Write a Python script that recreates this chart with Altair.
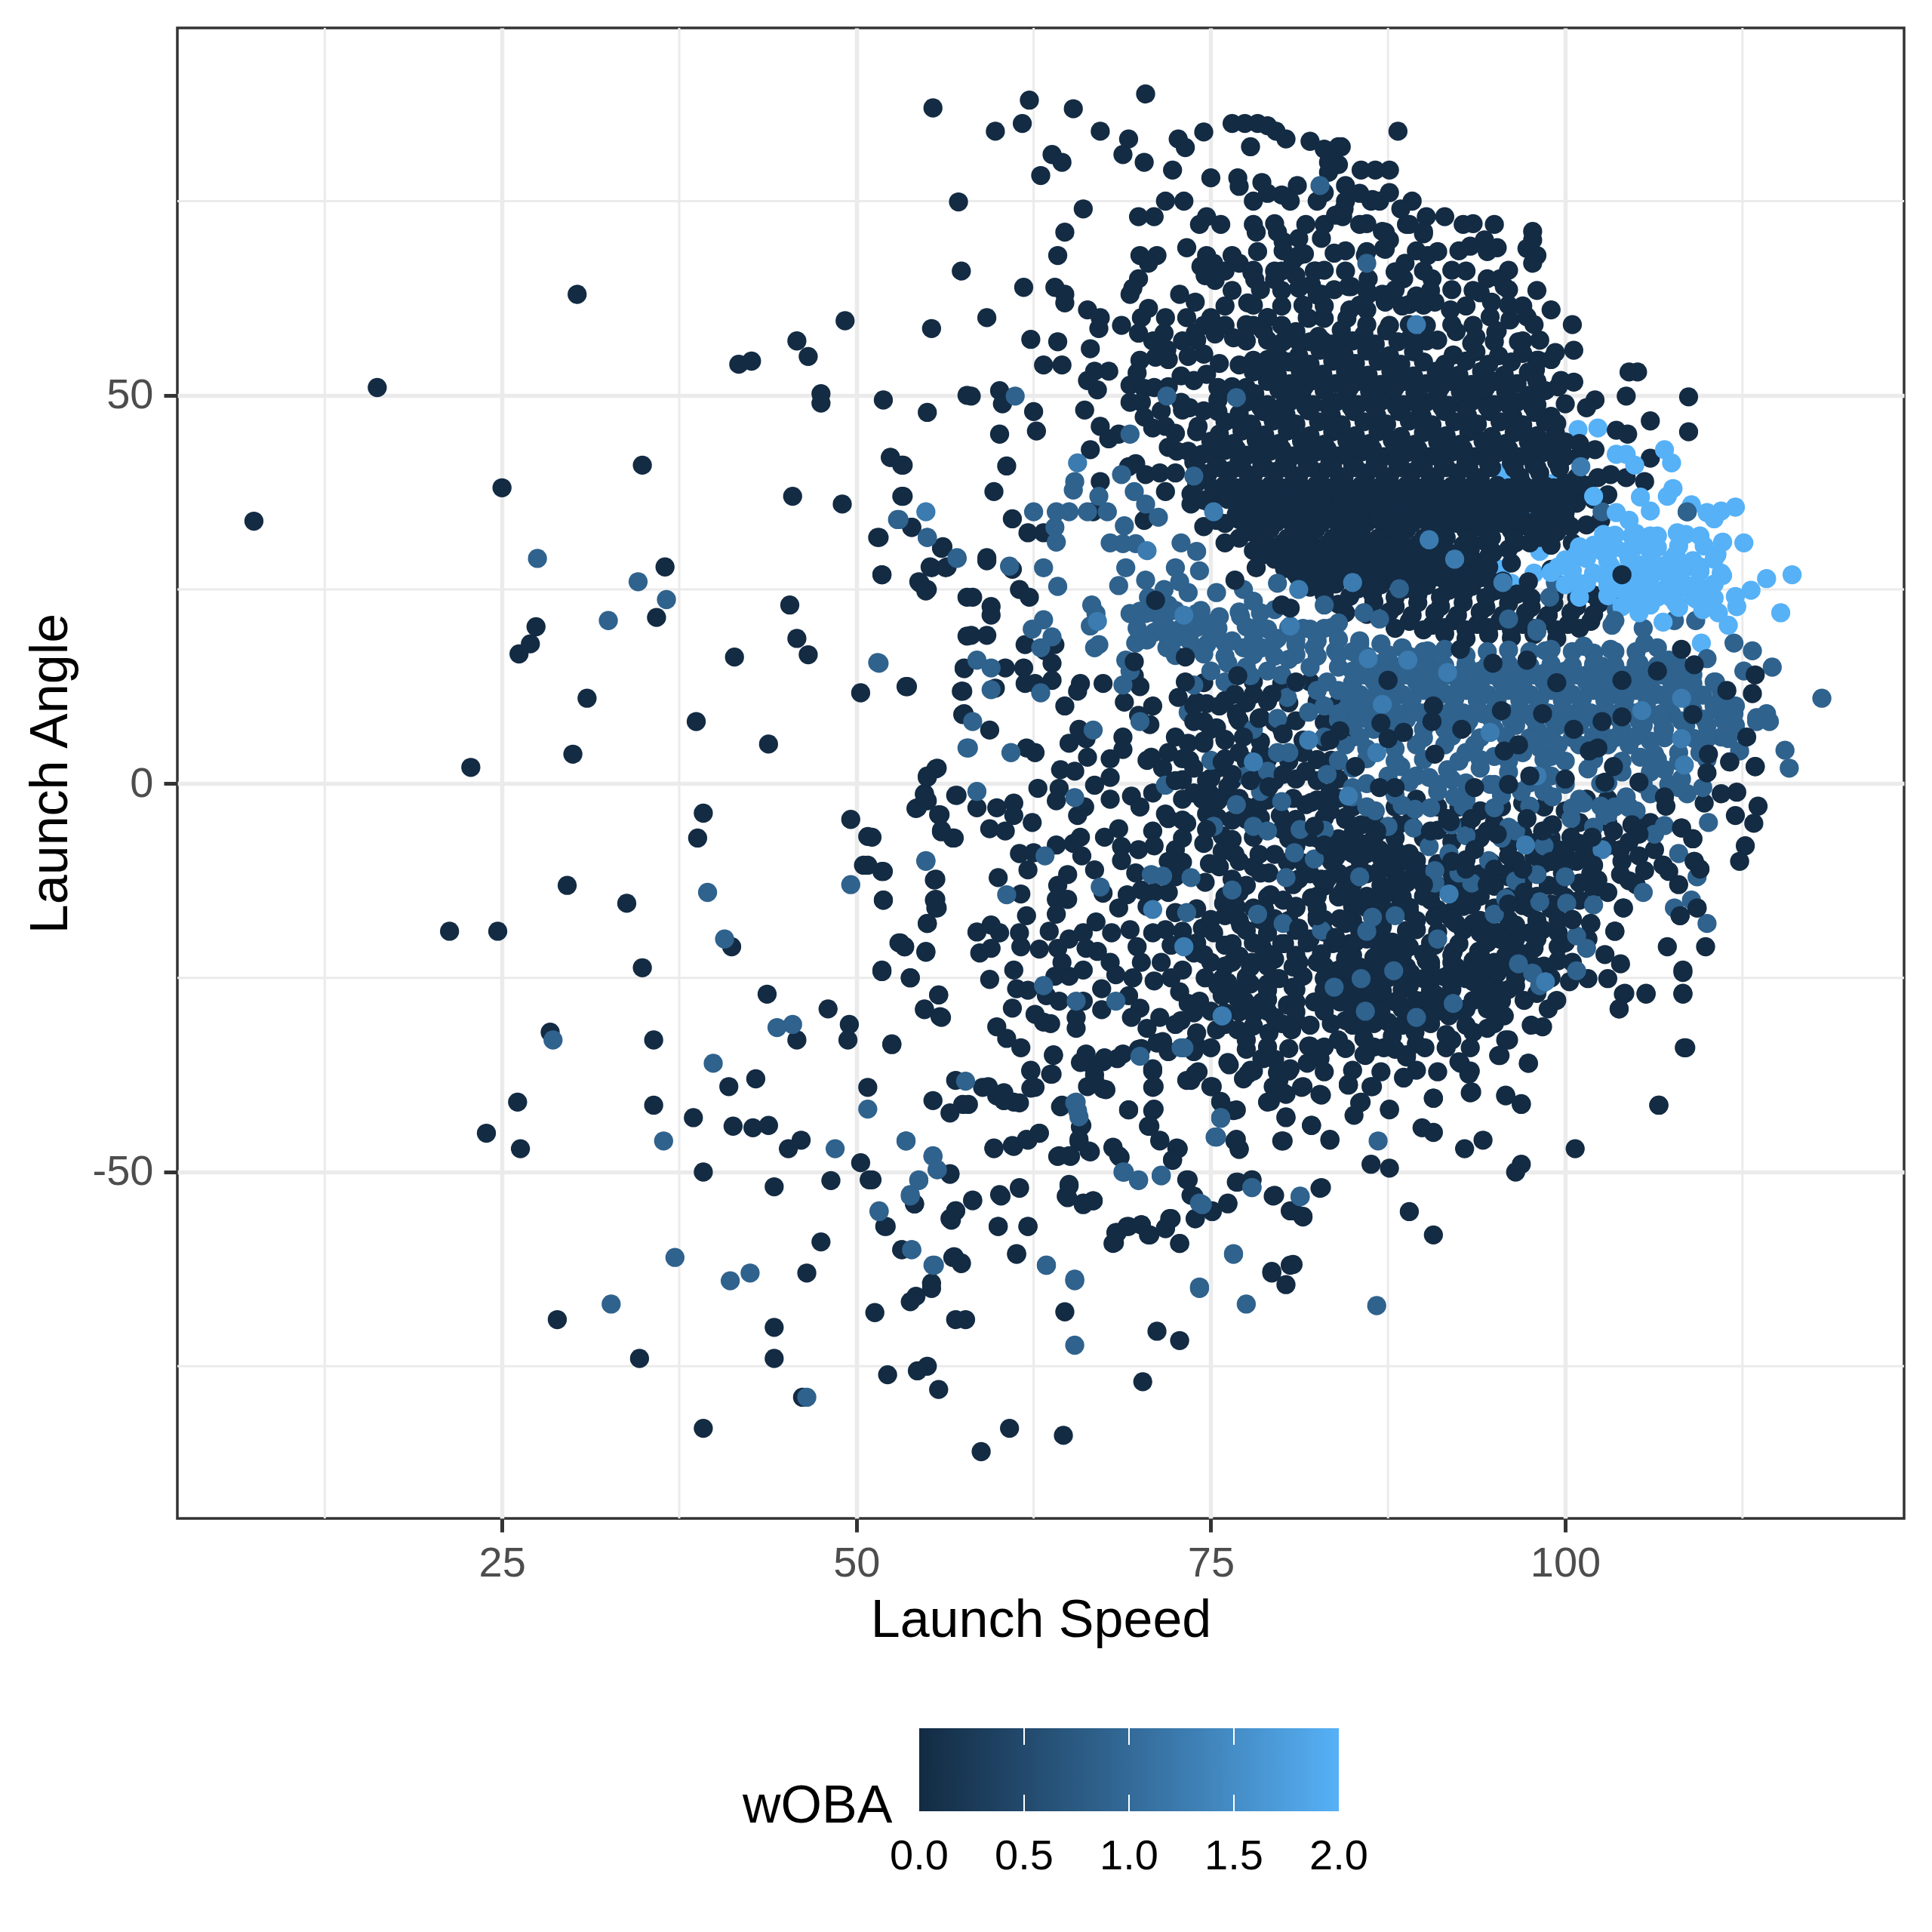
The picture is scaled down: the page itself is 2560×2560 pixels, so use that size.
import altair as alt
import pandas as pd

# Values: (launch speed, launch angle)
minor_x = [12.5, 37.5, 62.5, 87.5, 112.5]
minor_y = [-75, -25, 25, 75]
major_x = [25, 50, 75, 100]
major_y = [-50, 0, 50]
legend_ticks = [0.5, 1.0, 1.5]
legend_values = [0.0, 0.5, 1.0, 1.5, 2.0]
legend_text = ["0.0", "0.5", "1.0", "1.5", "2.0"]
low_colour, high_colour = "#132B43", "#56B1F7"

light_under = [(95.6,40),(99.3,38.8),(97.1,35.3),(96.3,35.1),(98,35.1),(100.4,36.3),(100.9,45.6),(102.3,45.8),
(103.6,42.4),(104.3,42.4),(98.2,29.9),(97.8,27.1),(94.8,29.5),(95.5,27.6),(96.2,25.8),(103.9,14.1),(109.6,18.1)]

dark_sparse = [(7.5,33.8),(16.2,51),(30.3,63),(25,38.1),(34.9,41),(36.5,27.9),(35.9,21.4),(27.4,20.2),(27,18),(26.2,16.7),
(31,11),(30,3.8),(22.8,2.1),(38.7,8),(43.8,5.1),(41.4,16.3),(41.7,54),(42.6,54.4),(45.8,57),(46.6,55),(47.5,50.2),(47.5,49),
(49.2,59.6),(51.9,49.4),(55,47.8),(55.3,58.6),(55.4,87),(57.2,74.9),(57.4,66),(57.8,50),(52.4,42),(53.2,41),(45.5,37),(49,36),
(53.2,37),(53.9,33),(51.5,31.7),(51.8,26.9),(56,30.3),(55.2,27.9),(56.4,27.9),(54.4,26),(55,25),(45.3,23),(45.8,18.7),(46.6,16.6),
(53.5,12.5),(50.3,11.7),(57.8,24),(57.8,19),(57.6,14.8),(57.4,11.9),(57.5,8.9),(55.6,1.9),(55,0.8),(54.8,-1.3),(55,-2.2),(54.2,-3.2),
(55.8,-4),(56,-6.2),(56.8,-7),(57,-1.5),(39.2,-3.8),(38.8,-7),(49.6,-4.6),(50.8,-6.8),(50.5,-10.5),(51.8,-11.3),(55.5,-12.4),(51.9,-15),
(55.5,-15),(55.6,-16),(55,-18),(29.6,-13.1),(33.8,-15.4),(21.3,-19),(24.7,-19),(41.2,-21),(53,-20.5),(53.4,-21),(54.9,-21.7),(34.9,-23.7),
(51.8,-24),(53.8,-25),(55.8,-27.2),(43.7,-27.1),(54.8,-29),(55.9,-30),(48,-29),(49.5,-31),(49.4,-33),(52.5,-33.6),(28.4,-32),(35.7,-33),
(45.8,-33),(41,-39),(42.9,-38),(50.8,-39.1),(26.1,-41),(35.7,-41.4),(38.5,-43),(41.3,-44.1),(42.7,-44.3),(43.8,-44),(23.9,-45),(26.3,-47),
(46.1,-45.9),(45.2,-47),(39.2,-50),(50.3,-48.8),(50.9,-51),(48.2,-51.1),(44.2,-51.9),(56.6,-50.3),(54.1,-54.1),(52,-57),(57,-55),(56.6,-56),
(47.5,-59),(53.2,-60),(56.8,-61),(57.4,-61.8),(46.5,-63),(55.3,-65),(54.2,-66),(53.8,-66.7),(51.3,-68.1),(28.9,-69),(57,-69),(44.2,-70),
(34.7,-74),(44.2,-74),(55,-75),(54.3,-75.6),(52.2,-76.1),(55.8,-78),(46.2,-79),(39.2,-83),(108.4,-34),(106.6,-41.4),(100.7,-47),(96.9,-49),
(96.5,-50),(94.2,-45.9),(92.9,-47),(90.7,-44.9),(89.9,-44.3),(90.7,-40.5),(87.6,-42),(86.3,-49),(87.6,-49.5),(89,-55.1),(90.7,-58.1),
(82.7,-52.1),(80.6,-55),(81.5,-55.8),(79.4,-53.1),(77.9,-51),(76.8,-51.3),(76.2,-54),(75.1,-55.1),(73.9,-56),(73.6,-53),(73.3,-51),
(80.6,-62),(79.3,-63),(80.3,-64.5),(72.8,-59.2),(72.1,-56),(71.8,-57.2),(70.7,-58.1),(70.1,-56.8),(69.1,-57),(68.4,-57.8),(68.1,-59.2),
(68.1,-46.9),(68.6,-48.1),(72.8,-71.7),(71.2,-70.5),(70.2,-77),(64.7,-68),(61.3,-60.6),(60,-57),(62.1,-57),(60.2,-53.1),(61.5,-52.1),
(58.2,-53.7),(65,-51.8),(64.8,-53.1),(66,-54),(66.7,-53.7),(60.8,-83),(58.8,-86),(64.6,-83.9),(57.7,-69),(59.7,-47),(61.1,-46.7),(62.1,-45.9),
(62.9,-45),(64.2,-48),(65.1,-48),(65.7,-46.1),(66.4,-47.3),(65.9,-44),(64.4,-41.6),(61.1,-41),(60.4,-40.8),(59.9,-40.2),(58.9,-39.1),(57.5,-41.3),
(62.6,-39.1),(63.8,-37.4),(62.3,-37),(63.9,-35),(69.2,-42),(70.9,-42.1),(70.6,-44.1),(71.4,-45.9),(72.7,-47),(72.3,-48.5),(76.7,-46),(77,-47),
(76.6,-42.1),(75.7,-41),(75.1,-39),(73.9,-37.4),(73.3,-38.2),(70.9,-39.1),(70.9,-37),(67.6,-39.4),(66.8,-38.2),(66.6,-36.2),(65.9,-35.8),
(67.4,-35.8),(68.4,-35.4),(69.9,-34.2),(71.2,-33.4),(73.9,-33.4),(80,-46),(82.1,-44),(83.4,-45.9),(80.3,-42.9),(79,-41),(80.1,-39.8),(79.8,-38.2),
(80.5,-37),(78.7,-35.4),(77.6,-37.4),(76.3,-36.2),(81.4,-39.1),(82.7,-40),(84.7,-38.7),(86.3,-39),(85.1,-42.7),(85.5,-41.1),(88.6,-37.9),(85.9,-35),
(82.7,-35.4),(81.9,-33.8),(93.3,-39.8),(95.8,-40.2),(96.9,-41.3),(93.2,-37.4),(92.5,-35.8),(95.3,-35),(97.4,-36),(95.8,-33),(88.8,-35.2),(88,-34.2),
(103.8,-29),(105.7,-27.1),(104.1,-27.1),(108.3,-24.3),(108.3,-27.1)]

dark_top_zone = [(62.2,88),(65.3,86.9),(70.4,88.8),(61.7,85),(59.8,84),(67.2,84),(69.2,83),(68.8,81),(70.3,80),(72.7,83),(73.2,81.9),(74.5,83.9),
(72.3,79),(63.8,81),(64.5,80),(63,78.3),(76.5,85),(77.4,85),(78.3,85),(79,84.7),(79.6,84),(80.3,83),(77.8,82),(82,82.7),(83,81.7),(84.2,82),(84,79.7),
(83.3,78.7),(75,78),(76.9,78),(77,76.9),(78.6,77.4),(81.1,77),(80,75.8),(80.6,75),(78,75),(82.5,75),(84.5,77),(84.5,75),(66,74),(71.8,75),(73.1,75),
(71,73),(69.9,73),(74.7,73),(74.2,72),(75.7,72),(78.2,71),(79.7,71),(81.7,72),(83,72),(84.3,73),(64.7,71),(80.1,69.8),(81.2,70.2),(82.8,70.2),(73.3,69),
(64.2,68),(70,68),(71.2,68),(70.6,67),(74.7,68),(76.5,68),(77,67),(74.3,66.6),(75.2,67),(74.6,65.4),(75.3,64.8),(69.9,65),(69.5,63.8),(69.3,63),(77.9,65.8),
(79.5,64.9),(78.1,64.9),(80.8,67.4),(80.1,68.6),(81.6,68.2),(83.7,68.3),(82.4,66),(81,65.4),(81.2,63.8),(82.8,63),(82.1,64.2),(84.7,64),(61.8,63.9),(64,63.9),
(64.7,63),(64.7,61.9),(66.3,61),(67.2,60),(67.1,58.6),(68.7,59),(70.6,61.2),(72.8,63),(73.9,62),(77.6,61.9),(79,60),(78,59),(78.7,58.3),(81.9,59.9),(83,59.9),
(84.6,59.9),(70.1,60),(71.8,60),(69.9,58),(71.7,58),(70.9,57),(71.9,55.9),(71.1,54.9),(73.3,60),(75,60),(73.9,58),(75.3,57.9),(76.6,57.4),(74.5,59),(59.2,60),
(62.3,57.2),(64.2,56.9),(66.5,56),(63.2,53.9),(64.5,53.9),(67.8,53.1),(66.8,53.1),(73.4,55),(74.5,55.3),(75.6,54.1),(77,53.9),(80.1,56.9),(81.2,56.9),(82.9,57),
(84.1,57),(79.9,54.7),(79,52.9),(72.9,52.5),(74.7,52.7),(73.8,51.9),(66.3,51.9),(67,50.7),(69.8,52.9),(69.3,51.3),(70.3,50.9),(58.1,49.9),(60.1,50.6),(60.3,48.9),
(62.5,47.9),(62.7,45.4),(60.1,45),(66.1,48.1),(67.2,46),(67.8,44.4),(69.3,49.1),(70.1,49.1),(70.3,47.2),(72.9,49.1),(73.5,48.4),(75.5,49.4),(77.5,50.3),(78.9,48.1),
(70.9,45.8),(71.8,46),(74.1,46),(76.8,46.8),(77.9,46),(66.5,43),(52.4,42),(53.3,41),(60.6,40.9),(53.3,37),(59.7,37.6),(67.2,38.9),(72,43.3),(73.4,42.8),(69.2,40.8),
(69.7,41.2),(70.4,39.8),(71.4,40),(71.8,37.6),(73.6,36),(70.3,33.9),(61,34.1),(66.7,35),(53.9,33),(51.6,31.7),(56.1,30.5),(62.1,32.3),(63.2,32.3),(59.2,29.1),
(85.6,79),(86.6,79),(87.6,79),(87.6,76.1),(86.3,75),(86.9,75),(89.2,75),(88.4,74),(90.2,73),(91.5,73),(88.8,72),(90,71.1),(92.8,72),(87.1,71.1),(87.6,70),(87.2,68.9),
(94.3,70),(93.3,69.2),(95.2,69),(97.7,71.1),(97.7,70),(97.3,68.9),(98,68),(97.7,67),(85.9,68),(90.3,68),(88.7,67),(88,65.9),(90,66),(90.6,65),(86.1,65),(84.8,64),(88.6,65),
(94.5,65),(95.4,65),(95.7,64),(94,63.2),(94.8,62),(87.1,63),(86.1,63),(87.6,63),(86,61),(84.8,61),(87.3,62),(89.5,62.8),(90.8,62),(91.9,61),(89,61.7),(99,61),(94.7,60.1),
(96.1,59.7),(97.3,60.1),(97.8,59.1),(100.5,59.1),(95.1,58.1),(96.7,56.9),(100.6,55.8),(99.3,55.5),(98.1,54.5),(99.7,51.9),(100.6,51.7),(97.9,53.3),(104.5,53),(105.1,53),
(104.3,49.9),(108.7,49.8),(100,48.9),(102.1,49.4),(101.5,48.4),(106,46.7),(108.7,45.3),(103.6,45.5),(104.4,45),(99.4,46.4),(101,43.8),(102.1,43),(106,41.9),(105.6,38.9),
(103.2,39.8),(104.3,39.4),(102.3,39.4),(88.2,84),(84,82),(83.3,80),(84.4,74),(83.8,73.2),(86.4,75.2),(87.3,71),(87.3,68.8),(90,70.8),(82.3,66),(82.5,62.9),(81.2,68),(80,66),
(84.9,64),(82.9,60),(81.8,60),(79,60)]

dark_core = [(81,58.2),(82.6,57.6),(84.2,58.4),(85.8,57.8),(87.4,58.3),(89.1,57.5),(92.3,58.2),(93.7,57.5),(95.2,58.3),
(79.6,55.5),(81.2,55.1),(82.7,55.8),(84.4,55.2),(86,55.7),(87.6,55.1),(89.3,55.6),(92.1,55.2),(93.7,55.6),(95.3,55.1),(97,55.4),
(78,53),(79.7,52.6),(81.3,53.2),(82.9,52.7),(84.5,53.1),(86.1,52.6),(87.7,53.1),(89.3,52.5),(90.9,53.1),(92.5,52.6),(94.1,53.1),(95.7,52.6),(97.4,53),
(76.6,50.5),(78.1,50.2),(79.8,50.7),(81.4,50.1),(83,50.6),(84.6,50),(86.2,50.5),(87.8,49.9),(89.4,50.4),(91,49.9),(92.6,50.5),(94.2,50),(95.8,50.5),(97.4,50),(98.6,50.6),
(75.5,47.9),(77,47.6),(78.7,47.9),(80.3,47.5),(81.9,48),(83.5,47.4),(85.1,47.9),(86.7,47.4),(88.3,47.9),(89.9,47.3),(91.5,47.9),(93.1,47.4),(94.7,47.9),(96.3,47.3),(97.9,47.8),(99,47.3),
(74,45.3),(75.6,45),(77.2,45.4),(78.8,44.9),(80.4,45.4),(82,44.8),(83.6,45.3),(85.2,44.8),(86.8,45.3),(88.4,44.7),(90,45.2),(91.6,44.8),(93.2,45.3),(94.8,44.7),(96.4,45.2),(98,44.8),(99.3,45.2),
(72.6,42.8),(74.4,42.4),(76,42.9),(77.6,42.3),(79.2,42.8),(80.8,42.2),(82.4,42.7),(84,42.2),(85.6,42.7),(87.2,42.1),(88.8,42.6),(90.4,42.1),(92,42.7),(93.6,42.1),(95.2,42.6),(96.8,42.1),(98.4,42.6),(100,42.1),(101.1,42.5),
(72.5,40),(74.8,39.9),(76.4,40.3),(78,39.7),(79.6,40.2),(81.2,39.6),(82.8,40.1),(84.4,39.5),(86,40),(87.6,39.5),(89.2,40.1),(90.8,39.5),(92.4,40),(94,39.4),(96.8,39.5),(98.2,40),(100.8,39.4),
(73.6,37.3),(75.9,37.6),(77.2,37.2),(78.8,37.7),(80.4,37.1),(82,37.6),(83.6,37),(85.2,37.5),(86.8,36.9),(88.4,37.4),(90,36.9),(91.6,37.5),(93.2,36.9),(94.8,37.4),(96.4,36.8),(98,37.3),(99.6,36.8),(101.2,37.4),(103,37.2),
(76.8,34.7),(78.4,35),(80,34.5),(81.6,35),(83.2,34.4),(84.8,34.9),(86.4,34.4),(88,34.9),(89.6,34.3),(91.2,34.8),(92.8,34.3),(94.4,34.8),(96,33.9),(97.6,33.6),(99.2,34.3),(101.5,33.3),(102.5,33.9),
(74.5,33.1),(77.5,32.4),(79.2,32.8),(80.8,32.2),(82.4,32.7),(84,32.1),(85.6,32.6),(87.2,32.1),(88.8,32.7),(91.5,32.1),(93,32.6),(94.6,32.1),(96.2,32.6),(97.8,31.9),(99.4,32.4),
(76,31),(78,30),(79.7,30.4),(81.3,29.9),(82.9,30.4),(84.5,29.8),(86.1,30.3),(87.7,29.8),(89.3,30.3),(90.9,30),(93.3,30.1),(94.9,29.7),(96.5,31),
(80.2,27.7),(81.8,28.2),(83.4,27.6),(85,28.1),(86.6,27.5),(88.2,28),(89.8,27.5),(91.4,27.9),(93,27.4),(94.6,27.9),(96.2,28.4),(99,27.6),(100.4,28.4),
(82,25.3),(83.8,25.7),(85.4,25.1),(87,25.6),(88.6,25),(90.2,25.5),(91.8,24.9),(93.4,25.4),(95,24.8),(96.6,24.4),(97.4,26),
(84,23.1),(86.5,23.4),(88,22.8),(89.6,23.3),(91.2,22.8),(92.8,23.3),(94.4,22.7),(96,23.2),(97.6,22.7),(99.2,23.2),(100.8,22.8),(102.4,23.2),(103.4,23.7),
(89,20.9),(90.6,20.4),(92.2,21),(93.8,20.5),(95.4,21),(97,20.5),(98.6,21),(100.2,20.5),(101.8,20.9),(91.5,19.3),(93,18.7),(94.6,19.2),(96.2,18.8),(97.8,19.2),(99.4,18.7)]

dark_core_fill = [(82,56.9),(83.5,56.6),(85,57),(86.6,56.6),(88.2,56.9),(93.4,56.7),(95,56.9),
(80.5,54.3),(82,54),(83.6,54.4),(85.2,54.1),(86.8,54.4),(88.4,54),(90,54.3),(91.5,54),(93,54.4),(94.6,54),(96.2,54.3),
(79,51.8),(80.6,51.5),(82.2,51.9),(83.8,51.5),(85.4,51.8),(87,51.4),(88.6,51.8),(90.2,51.5),(91.8,51.8),(93.4,51.4),(95,51.8),(96.6,51.5),(98,51.8),
(77.5,49.1),(79,48.8),(80.6,49.2),(82.2,48.8),(83.8,49.1),(85.4,48.8),(87,49.2),(88.6,48.8),(90.2,49.1),(91.8,48.7),(93.4,49.2),(95,48.8),(96.6,49.1),(98,48.8),
(76,46.6),(77.8,46.3),(79.4,46.7),(81,46.3),(82.6,46.6),(84.2,46.2),(85.8,46.6),(87.4,46.3),(89,46.7),(90.6,46.2),(92.2,46.6),(93.8,46.3),(95.4,46.6),(97,46.2),(98.6,46.6),
(75,44.1),(76.6,43.8),(78.2,44.2),(79.8,43.8),(81.4,44.1),(83,43.7),(84.6,44.1),(86.2,43.8),(87.8,44.2),(89.4,43.7),(91,44),(92.6,43.7),(94.2,44.1),(95.8,43.8),(97.4,44),(99,43.7),(100,44),
(73.8,41.4),(75.4,41.1),(77,41.5),(78.6,41.1),(80.2,41.4),(81.8,41),(83.4,41.4),(85,41.1),(86.6,41.5),(88.2,41),(89.8,41.3),(91.4,41),(93,41.4),(94.6,41.1),(96.2,41.3),(97.8,41),(99.4,41.4),
(74,38.7),(76,38.5),(77.6,38.8),(79.2,38.4),(80.8,38.7),(82.4,38.4),(84,38.8),(85.6,38.4),(87.2,38.7),(88.8,38.4),(90.4,38.7),(92,38.3),(93.6,38.7),(95.2,38.4),(97,38.6),(98.6,38.3),(100,38.7),(101.5,38.4),
(75,36),(77,35.8),(78.6,36.2),(80.2,35.8),(81.8,36.1),(83.4,35.7),(85,36.1),(86.6,35.8),(88.2,36.2),(89.8,35.7),(91.4,36),(93,35.7),(94.6,36.1),(96.2,35.8),(97.8,36),(99.4,35.7),(100.8,36.1),
(76,33.5),(78,33.3),(79.6,33.6),(81.2,33.2),(82.8,33.5),(84.4,33.2),(86,33.6),(87.6,33.2),(89.2,33.5),(90.8,33.2),(92.4,33.5),(94,33.1),(95.6,33.5),(97.2,33.2),(98.8,33.4),(100.4,33.1),
(78.4,31.1),(80,30.9),(81.6,31.2),(83.2,30.8),(84.8,31.1),(86.4,30.8),(88,31.2),(89.6,30.8),(91.2,31.1),(92.8,30.7),(94.4,31.1),(96,30.2),(97.5,31),(99,30.7),(100.5,31),
(79.5,28.9),(81,28.7),(82.6,29),(84.2,28.6),(85.8,28.9),(87.4,28.6),(89,29),(90.6,28.6),(92.2,28.9),(93.8,28.5),
(81.2,26.5),(82.8,26.3),(84.4,26.6),(86,26.2),(87.6,26.5),(89.2,26.2),(90.8,26.6),(92.4,26.2),(94,26.5),(95.6,26.1),
(83,24.3),(84.8,24.1),(86.4,24.4),(88,24),(89.6,24.3),(91.2,24),(92.8,24.4),(94.4,24),(96,24.2),(97.6,23.9),(99.2,24.3),(100.8,24),(102,24.3),
(84.5,22),(86,21.8),(87.6,22.1),(89.2,21.7),(90.8,22),(92.4,21.7),(94,22.1),(95.6,21.7),(97.2,22),(98.8,21.7),(100.4,22),(102,21.8),
(88,20),(90,19.8),(91.5,20.1),(93,19.8),(94.6,20.1),(96.2,19.8),(97.8,20),(99.4,19.8),(101,20),
(80,51),(81.6,51.1),(84.8,51),(86.4,51.1),(88,51),(89.6,51.1),(91.2,51),(92.8,51.1),(94.4,51),(96,51.1),
(78.5,48.5),(80.1,48.6),(81.7,48.5),(83.3,48.6),(84.9,48.5),(86.5,48.6),(88.1,48.5),(89.7,48.6),(91.3,48.5),(92.9,48.6),(94.5,48.5),(96.1,48.6),(97.7,48.5),
(75,43),(76.8,43.1),(78.4,43),(80,43.1),(81.6,43),(83.2,43.1),(84.8,43),(86.4,43.1),(88,43),(89.6,43.1),(91.2,43),(92.8,43.1),(94.4,43),(96,43.1),(97.6,43),(99.2,43.1),
(74,40.6),(75.6,40.7),(77.2,40.6),(78.8,40.7),(80.4,40.6),(82,40.7),(83.6,40.6),(85.2,40.7),(86.8,40.6),(88.4,40.7),(90,40.6),(91.6,40.7),(93.2,40.6),(94.8,40.7),(96.4,40.6),(98,40.7),(99.6,40.6),
(77.6,35),(79.2,35.1),(80.8,35),(82.4,35.1),(84,35),(85.6,35.1),(87.2,35),(88.8,35.1),(90.4,35),(92,35.1),(93.6,35),(95.2,35.1),(96.8,35),(98.4,35.1),(100,35),
(78.8,30),(80.4,30.1),(82,30),(83.6,30.1),(85.2,30),(86.8,30.1),(88.4,30),(90,30.1),(91.6,30),(93.2,30.1),(94.8,30),
(81,27),(82.6,27.1),(84.2,27),(85.8,27.1),(87.4,27),(89,27.1),(90.6,27),(92.2,27.1),(93.8,27),
(75.2,38),(76.8,38.1),(78.4,38),(80,38.1),(81.6,38),(83.2,38.1),(84.8,38),(86.4,38.1),(88,38),(89.6,38.1),(91.2,38),(92.8,38.1),(94.4,38),(96,38.1),(97.6,38),(99.2,38.1),(100.4,38),
(74.5,36.5),(76.2,36.6),(77.8,36.5),(79.4,36.6),(81,36.5),(82.6,36.6),(84.2,36.5),(85.8,36.6),(87.4,36.5),(89,36.6),(90.6,36.5),(92.2,36.6),(93.8,36.5),(95.4,36.6),(97,36.5),(98.6,36.6),(100.2,36.5),(102,36.6),
(75.4,33.9),(77,34),(78.8,33.9),(80.4,34),(82,33.9),(83.6,34),(85.2,33.9),(86.8,34),(88.4,33.9),(90,34),(91.6,33.9),(93.2,34),(94.8,33.9),(96.6,34),(98.2,33.9),(100,34),
(77,31.6),(78.8,31.7),(80.4,31.6),(82,31.7),(83.6,31.6),(85.2,31.7),(86.8,31.6),(88.4,31.7),(90,31.6),(91.6,31.7),(93.2,31.6),(94.8,31.7),(96.4,31.6),(98.2,31.7),
(78.5,29.3),(80.2,29.4),(81.8,29.3),(83.4,29.4),(85,29.3),(86.6,29.4),(88.2,29.3),(89.8,29.4),(91.4,29.3),(93,29.4),(94.6,29.3),
(82,26),(83.6,26.1),(85.2,26),(86.8,26.1),(88.4,26),(90,26.1),(91.6,26),(93.2,26.1),(94.8,26)]

dark_upper_fill = [(76,59),(77.5,59.1),(80,59),(86,59.1),(87.6,59),(89,59.1),(90.2,59),(92,59.1),(93.5,59),
(76,61.5),(78,61.6),(80,61.5),(81.5,61.6),(83,61.5),(85.5,61.6),(88.5,61.5),(90,61.6),(93,61.5),(96,61.6),(97,61.5),
(76.5,63.5),(78.5,63.6),(80,63.5),(83.7,63.6),(86,63.5),(88,63.6),(90.5,63.5),(92,63.6),(93.5,63.5),(96,63.6),(98,63.5),
(76,66),(78,66.1),(79.5,66),(83,66.1),(84.5,66),(92,66.1),(93,66),(96,66.1),(78.3,68.5),(84.5,68.6),(86,68.5),(89.5,68.6),(91,68.5),(92.5,68.6),(94.5,68.5),
(78,72),(79.5,72.1),(85.5,72),(86,72.1),(89,72),(93.5,72.1),(95,72),(79,76),(83,76.1),(85.5,76),
(73,57),(74,57.1),(77.5,57),(79,57.1),(90.2,57),(91,57.1),(97,57),(98.2,57.1),(70,54.5),(72,54.6),(78,54.5),(79,54.6),(98,54.5),(99,54.6),
(71,51),(72,51.1),(75.5,51),(76.5,51.1),(77.5,51),(99.5,51.1),(71.5,48),(73,48.1),(74.5,48),(68.5,45),(72.5,45.1)]

dark_left_lower = [(51.8,26.9),(55.3,27.8),(56.3,27.8),(59.2,28.7),(54.5,25.8),(54.9,24.8),(58.2,24),(59.5,22.8),(59.5,21.7),(58.1,19.1),(59.2,19.1),(61,27.6),(61.5,25),(62.2,24),
(61.9,17.9),(64,17.9),(63.3,17.1),(57.6,14.9),(60.5,14.9),(61.8,14.9),(63.8,15.5),(61.9,12.9),(62.6,12.9),(63.8,13.3),(65.8,12.9),(65.6,11.9),(67.4,12.9),(64.7,10),(53.6,12.5),(57.5,11.9),
(59.8,12.3),(57.6,9),(59.4,6.9),(62,4.6),(62.6,4),(65.7,7),(66.2,5.8),(65,5.2),(66.3,3.4),(64.4,1.8),(65.4,1.6),(67.9,3.2),(68.8,6),(68.8,4.4),(70.7,7.6),(69.9,8.8),(70.9,10),(68.9,10.5),
(70,12.5),(69.6,13.9),(70.8,3.4),(70.5,3),(71.6,2),(67.9,0.8),(66.8,-0.2),(67.9,-2),(69.4,-1.6),(70.9,-1.2),(71.8,-3.9),(62.8,-0.6),(64.3,-0.6),(64.1,-2.2),(66.1,-3),(65.6,-4.1),(55.7,2),(55,1),
(54.8,-1.4),(54.3,-3.1),(55.9,-4),(56,-6),(56.9,-7),(51.1,-6.9),(57.1,-1.5),(58.5,-3.1),(59.9,-3.1),(61.1,-2.5),(61.1,-4.1),(62.4,-5),(59.4,-5.8),(60.5,-6.1),(61.5,-9),(62.5,-8.9),(62.1,-11.1),
(64.1,-7.9),(65.3,-7.7),(65.8,-6.9),(65.9,-9.3),(66.8,-11.1),(67.5,-6.9),(68.5,-5.8),(68.7,-8.1),(68.7,-9.9),(64.9,-11.7),(64.2,-13.1),(64.1,-14.9),(64.9,-14.9),(64.1,-16.8),(63.6,-19),(60,-12.1),
(61.6,-14.2),(67.4,-14.1),(51.9,-11.3),(55.6,-12.3),(55.6,-14.9),(55.7,-16),(55,-18),(51.9,-15),(50.8,-10.5),(62,-17),(59.5,-18.2),(58.5,-19.1),(60.1,-19.2),(58.7,-21.8),(59.5,-21.2),(61.5,-19.2),
(61.6,-21),(62.9,-21.3),(64.2,-21.2),(65,-20),(66,-19.2),(66.9,-17.8),(68,-19.2),(69.3,-18.8),(70.9,-19.2),(71.8,-18.8),(72.2,-20.8),(66.2,-21.2),(67,-21.6),(67.9,-23),(68.3,-24.6),(70.1,-23),(69.5,-25),
(67.3,-26.4),(69.2,-27.3),(70,-28.9),(71,-25.4),(72.2,-25),(72.8,-26.8),(74.2,-28),(73.4,-28.3),(71.4,-30.1),(72.9,-30.5),(74.6,-25),(76,-20.8),(73.8,-21.8),(75,-23),(76.5,-23),(77.9,-23),(74.4,-18.6),
(77.1,-18.2),(72.5,-16.6),(75.9,-15.4),(76.5,-12.3),(70.5,-15.8),(71,-14),(69.1,-14.3),(70.1,-13.7),(69.7,-11.5),(69.9,-8.5),(70.9,-6.1),(72.5,-8.5),(73,-10.1),(73.3,-5.1),(74.5,-7.7),(74.6,-12.7),
(74.9,-10.3),(75.8,-6.7),(76.7,-9.1),(75.6,-10.7),(74.4,-2),(74.7,-3.9),(78.4,-2.7),(76.5,-4.7),(79.9,-4.1),(80,-5.9),(81.7,-2.7),(78.4,-9.1),(79.5,-9.1),(80.4,-10.1),(78,-10.7),(79.1,-11.5),(81.2,-12.3),
(82.8,-12.3),(79.2,-14.3),(80.1,-15),(82.1,-14.7),(79.5,-17.4),(82,-20),(83.6,-20.6),(78.6,-21),(80,-20.6),(81.2,-23),(79.5,-22.6),(82.5,-23),(84.3,-24.2),(84.4,-26.4),(75.8,-27.3),(76.2,-25.6),(77.8,-25.8),
(79,-25.8),(80.8,-26.2),(76.9,-27.7),(78.6,-28.1),(80.4,-28.5),(82.3,-28.1),(84.1,-28.1),(78,-29.7),(79.5,-30.1),(81,-30.5),(74,-32.1),(75.4,-31.7),(76.9,-31.7),(79.1,-32.1),(80.7,-31.7),(84.5,-30.5),
(51.8,-24.2),(53.8,-25),(55.8,-27.2),(54.8,-29.1),(56,-30.1),(59.4,-25.2),(61.1,-24),(61.3,-26.4),(62.1,-26.6),(64,-24.8),(65,-24.8),(63.4,-27.3),(64.3,-28),(66,-28),(67.3,-29.1),(61,-28.9),(62.6,-29.7),
(63.2,-30.7),(63.7,-30.9),(65.5,-30.1),(65.5,-31.5),(59.9,-31.3),(69.4,-30.1),(53.1,-20.5),(53.4,-21),(54.9,-21.6),(60.6,-32.8),(61.6,-34),(52.5,-33.5),(63.9,-34.9),(66.2,-34.8),(65.8,-35.9),(67.5,-35.3),
(68.8,-34.8),(70.1,-34.1),(71.6,-33.2),(72,-34.5),(73.8,-33.5),(73.8,-34.5),(70.9,-36.7),(71,-39),(71,-41.9),(70.7,-44.1),(71.4,-46),(72.6,-46.9),(72.3,-48.4),(62.3,-36.9),(63.7,-37.4),(62.3,-39.2),(59.3,-39),
(60.4,-39.8),(60.4,-40.8),(61.5,-41.1),(66.8,-37.5),(66.3,-39),(67.4,-39.3),(74.1,-37.1),(73.6,-38.2),(76.2,-35.9),(75,-39),(75.7,-40.9),(76.8,-42),(76.8,-45.8),(77,-47.1),(78.6,-35.4),(77.8,-36.9),(77.3,-38),
(79.7,-37.2),(80.6,-36.7),(81.5,-39),(79.4,-39),(79.2,-40.9),(80.3,-40),(82.8,-40.1),(80.3,-43),(82.1,-44),(80.1,-46),(83.4,-45.8),(82,-33.8),(82.6,-35.3),(84.7,-38.8),(64.5,-41.4),(65.8,-44.2),(69.2,-42),(65.7,-45.8),
(66.5,-47.4),(65,-47.9),(64.3,-47.9),(62.9,-45),(62,-45.8),(61,-46.6),(59.7,-46.9),(68.1,-46.8),(68.5,-47.9),(57,-38.2),(55.4,-40.8),(56.6,-42.4),(57.9,-41.3),(56.6,-50.2),(51.1,-51),(54.1,-54.1),(52.1,-57),
(58.2,-53.6),(57,-55),(56.7,-56.2),(60.1,-52.9),(61.5,-52),(65,-51.6),(64.9,-53.3),(66,-54.2),(66.7,-53.7),(60,-57),(62.1,-57),(61.3,-60.5),(53.2,-60),(56.9,-60.9),(57.4,-61.7),(55.3,-64.3),(68.2,-59.1),(68.3,-57.8),
(69.2,-57),(70.1,-56.8),(70.6,-58.1),(71.8,-57.3),(72.2,-56),(72.8,-59.2),(73.4,-51),(73.8,-53.1),(73.9,-56),(75.1,-55),(76.2,-54.1),(76.9,-51.3),(77.9,-51),(79.5,-53),(82.8,-52),(80.8,-55),(81.5,-55.7),(79.3,-62.8),(80.8,-61.9)]

dark_lower_core = [(76,-1.5),(77.5,-3),(75.5,2),(77,4),(78.5,4),(75,7),(76.8,9),(78.5,8.5),(80,7),(81.5,4),(83.5,3),(85,6),(73.5,9),(72.5,6),(72,4),(83.2,-3),(82.5,-7),(84,-9),(85.5,-11),(87,-9.5),(88.5,-10),
(90,-12),(91.5,-13.5),(93,-14),(94.5,-13),(96,-15.5),(97.5,-16),(99,-15.5),(100.5,-17.5),(85,-3),(86.5,-4.5),(88,-3),(89.5,-2),(91,-3),(92.5,-3),(94,-3.5),(95.5,-3),(97,-2.5),(98.5,-3),(100,-3.5),
(101.5,-2),(103,-2),(104.5,-3),(85,-6.5),(86.5,-7),(88,-7),(90,-7),(92,-7.5),(94,-7),(96,-8),(98,-7.5),(100,-9),(101.5,-9),(103,-8),(104.5,-7.5),(106,-5),(84.5,-13),(86,-16),(87.5,-14),(89,-16.5),(90.5,-15),
(92,-16.5),(93.5,-18),(95,-19),(96.5,-20),(98,-20),(99.5,-21),(100.5,-23),(84.5,-18),(86,-20),(87.5,-22),(89,-21),(90.5,-23),(92,-23),(93.5,-22.8),(95,-23),(97,-24),(98.5,-23.5),(84.5,-22.5),(86,-24.5),(87.5,-25),(89,-26),
(90.5,-25.5),(92,-26),(93.5,-25.5),(95,-26),(96.5,-26),(84,-24),(85.5,-27.5),(87,-28),(88.5,-29),(90,-29),(91.5,-28),(93,-29),(94.5,-29),(84,-20.5),(82.5,-17.5),(81,-16),(83,-9),(81,-8),(77,-14),(78,-16),(76,-17),(72,-14),(72.5,-12),
(77,-10),(81.5,-10.2),(83.5,-10),(85.5,-9.8),(87.5,-10.4),(89.5,-9.9),(91,-10.3),(93,-9.8),(94.8,-10.2),(96.5,-9.9),(98.5,-10.3),(100.8,-10),
(77.5,-13.1),(80.8,-13),(83,-13.2),(85,-12.9),(87,-13.1),(88.8,-12.8),(91,-13.1),(92.5,-12.8),(95,-13.2),(97,-12.9),(98.8,-13.1),(101,-12.8),
(74,-16.1),(76.8,-15.9),(78.8,-16.2),(81,-15.8),(82.5,-16),(85,-15.8),(87.2,-16.1),(89,-15.9),(91,-16.2),(92.8,-15.8),(95,-16),(97,-15.7),(99,-16.1),
(73,-19),(75.2,-19.2),(77.5,-18.9),(79,-19.2),(81,-18.9),(83,-19.1),(85.5,-18.9),(87,-19.2),(88.8,-18.9),(91,-19.1),(92.8,-18.9),(94,-19.2),(96,-18.9),(97.5,-19.2),
(74.5,-22),(77,-22.2),(79,-21.9),(81,-22.1),(82.8,-21.9),(85,-22.1),(86.8,-21.9),(88.5,-22.2),(90,-21.9),(92,-22.1),(94,-21.9),(95.8,-22.1),(97,-21.9),
(75.8,-25.1),(77.5,-24.9),(79.8,-25.1),(81.5,-24.8),(83,-25.1),(85.2,-24.9),(86.8,-25.1),(88.5,-24.8),(90,-25.1),(91.5,-24.9),(93,-25.1),(94.5,-24.9),(96.5,-25.1),
(77.4,-28),(79,-27.8),(81,-28.1),(83,-27.9),(85,-28.1),(86.5,-27.9),(88,-28.1),(90,-27.9),(92,-28.1),(93.5,-27.9),(95,-28),
(76,-31),(78,-31.2),(80,-30.9),(82,-31.1),(83.5,-30.9),(85,-31.1),(86.5,-30.9),(88.5,-31.1),(90.5,-30.9),(93,-31.1),(95,-30.9),
(75,-34),(77.5,-34.2),(79,-33.9),(80.5,-34.1),(83,-33.9),(84.5,-34.1),(86.5,-33.9),(78,-37),(83,-37.1),(85,-36.9),(87,-37.1),(89.5,-36.9),(91,-37.1),
(85,-9),(87,-6),(89,-5),(91,-6),(93,-5.5),(95,-5),(97,-6.5),(99,-7),(101,-5),(103,-5),(105,-5.5),
(74.5,13),(78,13.1),(80,12.9),(82,13.1),(74,10.5),(76,10.7),(77.5,10.4),(79,10.6),(80.5,10.4),(82.5,10.6),(84,10.4),(74.5,8),(77,8.1),(79.5,7.9),(81,8.1),(83,7.9),(74.5,5.5),(76,5.7),(78.5,5.4),(81.5,5.6),(83,5.4),
(73.5,3),(76,3.2),(77.5,2.9),(79,3.1),(80.5,2.9),(82.5,3.1),(84,2.9),(73,0.5),(75,0.7),(76.5,0.4),(78,0.6),(79.5,0.4),(81,0.6),(82.5,0.4),(84,0.6),(73,-2),(75.5,-2.2),(77,-1.9),(79,-2.1),(80.8,-1.9),(82.5,-2.1),(84,-1.9),
(72,-4.5),(73,-4.7),(75.5,-4.4),(77.5,-4.6),(78.5,-4.4),(81,-4.6),(83,-4.4),(84.5,-4.6),(73,-7),(76.5,-7.2),(78,-6.9),(80.5,-7.1),(82,-6.9),(84,-7.1),
(70,-3),(71,-8),(72,-10),(68.5,-16),(69.8,-21),(71.5,-23),(73,-24),(75.5,-26),(72.5,-31),(73.8,-29.5),(70.5,-31.5),(66,-24),(64.5,-23),(76,-29.5),(77.5,-33),(79.5,-35.5),(81.8,-36),(84,-33),(85.8,-32.8),(87.8,-32.5),(89.5,-33.5),(92,-33),(93.5,-32),(94.5,-31.5),(95.5,-28),(96,-26.5),(98,-27),(99,-25),(100,-20.5),(101,-15),(103,-14),(105,-13),(102,-13.5),(104.5,-12.5),(108,-13),
(78.5,-11.5),(82,-11.6),(84,-11.5),(86,-11.6),(88,-11.5),(90,-11.6),(92,-11.5),(94,-11.6),(96,-11.5),(98,-11.6),(99.8,-11.5),(101.8,-11.6),
(76,-14.5),(79,-14.6),(82.5,-14.5),(84,-14.6),(86,-14.5),(88.5,-14.6),(90,-14.5),(92.3,-14.6),(94,-14.5),(96,-14.6),(98,-14.5),(100,-14.6),
(75,-17.5),(77,-17.6),(78.5,-17.5),(80.5,-17.6),(83,-17.5),(85,-17.6),(87,-17.5),(89.5,-17.6),(92,-17.5),(94,-17.6),(96,-17.5),(98,-17.6),(99.5,-17.5),
(74,-20.5),(76.5,-20.6),(78,-20.5),(80.2,-20.6),(81.8,-20.5),(84.8,-20.6),(86.8,-20.5),(88.5,-20.6),(90.5,-20.5),(92.5,-20.6),(94.5,-20.5),(96.2,-20.6),
(76,-23.5),(77.8,-23.6),(79,-23.5),(80.8,-23.6),(83,-23.5),(85.5,-23.6),(87,-23.5),(88.8,-23.6),(90.5,-23.5),(92.3,-23.6),(94,-23.5),(95.8,-23.6),(97.8,-23.5),
(76.8,-26.5),(79,-26.6),(81,-26.5),(83,-26.6),(85.5,-26.5),(86.5,-26.6),(88.5,-26.5),(90.5,-26.6),(92,-26.5),(94,-26.6),
(75,-29.3),(77,-29.4),(79,-29.3),(81,-29.4),(83,-29.3),(85,-29.4),(87,-29.3),(89,-29.4),(91,-29.3),(92.8,-29.4)]

dark_lower_right = [(113.4,2.2),(111.6,2.8),(112.1,-1.1),(111,-1.3),(109.8,-2.5),(113.6,-2.9),(112,-4.1),(113.3,-5.1),(108.2,-5.7),(109,-7.1),(112.7,-8),(112.3,-10),(109.1,-10),(109.5,-11),(107.3,-11.3),
(108.1,-17),(109.3,-16),(107.2,-21),(109.9,-21),(108.3,-24),(108.3,-27),(108.5,-34),(106.6,-41.4),(105.7,-27),(104.2,-27),(103.8,-29),(103.9,-23.2),(103,-25.1),(102.8,-22),(103.5,-19),(104.1,-16),(101.8,-18),(101.6,-20),
(100.3,-25.5),(101.6,-25.1),(99.4,-27.9),(98.8,-29),(98.4,-31.3),(97.6,-31.1),(96,-33),(95.4,-35),(97.4,-36),(93.3,-34),(92.6,-36),(93.3,-37),(88.6,-37.8),(87.2,-34),(88.8,-34.9),(90.1,-34),(91.6,-34),(85.8,-34.9),(93.4,-39.7),
(95.8,-40.1),(96.9,-41.2),(90.7,-40.5),(87.6,-41.9),(86.4,-39),(84.7,-38.8),(85.6,-41),(95.7,-29.9),(87.5,-30.7),(89.4,-32),(85.7,-31.1),(91.6,-32.3),(91.8,-29.9),(97.1,-27.9),(95.2,-24.4),(93.9,-27.5),(90.8,-27.1),(89.5,-27.9),
(87.1,-26.7),(88.2,-27.9),(84.5,-26.7),(84.9,-24),(86.5,-22.4),(89.1,-24.4),(90.2,-22.8),(91.9,-24.4),(93.4,-24.4),(95.8,-22.4),(97.8,-21.2),(99.5,-22.8),(98.4,-18.8),(96.5,-18.2),(99.5,-19.2),(95.4,-20),(93.9,-21.6),(92.1,-21.6),
(90.8,-20.8),(89.5,-18.8),(87.8,-20.4),(85.2,-20.4),(84.7,-17.6),(87.1,-18.4),(88.4,-15.2),(90.8,-17.2),(92.3,-18),(94.5,-18.2),(93.4,-15.6),(97.1,-14),(94.7,-11.7),(96,-12),(99.5,-13.2),(100,-10.5),(102.3,-12.4),(103.9,-11.7),(105.6,-11.2),
(106.9,-10.5),(105.2,-9.3),(106.3,-8.5),(103.9,-8.5),(101,-7.7),(99.5,-8.5),(97.8,-9.3),(96,-9.3),(86.9,-8.5),(88,-8.5),(85.6,-7.7),(84.7,-8.5),(89.3,-11.7),(86.9,-11.2),(85,-11.7),(86.5,-14.8),(85,-14.4),(88.2,-5.3),(85.6,-5.3)]

mid_points = [(28.6,-33),(86,67),(27.5,29),(34.6,26),(36.6,23.7),(32.5,21),(52.9,34),(55,31.7),(57.1,29),(51.5,15.6),(57.8,4.6),(54.9,-9.9),(49.6,-13),(39.5,-14),(40.7,-20),(44.4,-31.4),(45.5,-31),(39.9,-36),(50.8,-41.9),
(36.4,-46),(48.5,-47),(53.5,-46),(55.4,-48),(55.7,-49.7),(54.4,-51.1),(53.8,-53.1),(51.6,-55.1),(53.9,-60),(55.4,-62),(37.2,-61),(42.5,-63),(41.1,-64),(32.7,-67),(46.5,-79),(86.8,-46),(86.7,-67.2),(81.3,-53.2),(77.9,-52),(74.2,-54),
(76.6,-60.6),(74.2,-65),(77.5,-67),(71.5,-50.5),(69.9,-51),(68.8,-50),(65.4,-72.3),(65.4,-64),(63.4,-62),(65.6,-42.1),(65.4,-41.1),(57.7,-38.3),(75.3,-45.5),(75.7,-43.1),(72.9,-34),(73.1,-34),(70,-35.1),(75.4,-45.5),(75.7,-43),(68.3,-28),(65.5,-28),(63.2,-26),
(75.8,-29.9),(83.7,-26.2),(82.7,77),(61.2,49.9),(71.9,49.9),(76.8,49.7),(69.3,45),(65.4,38.9),(65.3,37.8),(67.1,37),(73.8,39.6),(68.7,39.8),(69.6,37.6),(70.4,36),(71.3,34.3),(62.5,35),(64.1,35),(65,35),(66.3,35),(67.7,35),(53,34),(55,31.7),
(64,33),(64.1,31.1),(68.9,33.2),(67.9,31),(68.8,30.9),(69.7,30.9),(72.9,31),(74,29.9),(57.1,29.1),(60.8,28),(63.2,27.8),(64.2,25.4),(68.5,25.5),(66.6,23),(66.9,21.9),(66.5,20.3),(67.1,17.9),(66.8,17.5),(63.2,21.1),(62.4,19.9),(63.8,18.9),(63,17.5),
(58.5,15.9),(59.5,14.9),(63,11.7),(51.6,15.5),(59.5,12.1),(58.2,8),(57.9,4.6),(60.9,4),(66.7,6.9),(70,8),(68.8,12.7),(69.3,14.5),(69,15.9),(69.7,18.1),(71.8,-0.2),(58.5,-1),(65.4,-1.8),(63.3,-9.3),(60.6,-14.3),(67.2,-13.3),(54.9,-10),
(73.6,-12.1),(70.8,-11.7),(71.6,-11.9),(73.3,-16.6),(76.5,-13.7),(75.2,-5.5),(76.8,-2.7),(80,-2.3),(78,-5.5),(79,-6.1),(81.3,-5.9),(80.9,-8.9),(82.3,-9.7),(80.3,-12.1),(78.3,-16.8),(80.1,-18),(82.8,-18.9),(65.5,-41),(65.7,-42.9),
(75.7,-43),(75.4,-45.5),(53.5,-46),(55.4,-47.9),(55.7,-49.7),(54.4,-51),(53.8,-52.9),(51.6,-55),(53.9,-60),(55.5,-62),(63.4,-62),(65.4,-63.8),(76.6,-60.5),(74.2,-64.8),(68.9,-50),(69.9,-51.1),(71.5,-50.4),(77.9,-52),(81.3,-53.1),(74.4,-54.2),
(69,27.8),(70.4,26.2),(71.7,25),(72.5,27.8),(74.2,27.4),(73.4,24.6),(75.4,24.6),(77.3,25),(79.7,25.8),(69.3,21.9),(70.4,21.9),(71.7,20.7),(71,19.5),(71.9,17.5),(74.3,22.3),(74.7,20.7),(73.8,17.5),(74.7,17.9),(72.5,18.7),(76,18.1),(77.3,17.5),(77.1,21.5),
(78.4,20.3),(79.7,18.7),(81,17.9),(82.3,17.5),(83.8,17.1),(78.6,17.5),(76.2,15.5),(77.8,13.9),(83,23),(84,20.7),(73.8,12.7),(76,13.1),(80.4,11.1),(83.2,13.1),(81.9,9.2),(79.7,8.4),(79.7,4),(79,1.6),(83.2,1.2),(75,3),(73.4,9.2),
(72.8,26),(73.5,21),(75.6,21.5),(78,23.5),(79.5,22.4),(81.5,20),(83,20),(85.5,18),(70.6,24),(72,23),(75.2,19.3),(80.5,16),(82,15),(84,15),(79,14.5),(81,13),(85.8,22),(86.9,21.2),(88.3,25.1),(85,17),
(87,18),(88.5,17.5),(90,17),(91.5,17.3),(93,16.5),(94.5,17),(96,17.2),(97.5,17),(99,17.3),(100.5,17),(102,16.8),(103.5,17),(105,17),(106.5,17.5),(85,14.5),(86.5,14),(88,14.5),(89.5,14),(91,14.5),(92.5,14),(94,14.5),(95.5,14),(97,14.5),(98.5,14.2),(100,14.5),(101.5,14),
(103,14.5),(104.5,14),(106,14.5),(107.5,14),(109,14),(84,12),(85.5,11.5),(87,12),(88.5,11.5),(90,12),(91.5,11.6),(93,12),(94.5,11.5),(96,12),(97.5,11.5),(99,12),(100.5,11.5),(102,12),(103.5,11.5),(105,12),(106.5,11.5),(108,12),(111,12),(83,10),(84.5,9.5),(86,10),(87.5,9),(89,9.5),
(90.5,9.5),(92,9.5),(93.5,9),(95,9.5),(96.5,9),(98,9.5),(99.5,9),(101,9.5),(102.5,9),(104,9.5),(106,9),(107.5,9),(109,9.5),(110.5,10),(112,10),(85,7.5),(86.5,7),(88,7.5),(90,7),(91.5,7),(93,7.5),(95,7),(96.5,7.5),(98,7),(99.5,7.5),(101,7.5),(102.5,7),(104,7),(105.5,7.5),(107,7),(108.5,7.5),(110,7.5),(112,7.5),(113.5,8.5),
(84.5,5),(86,4.5),(88,4.5),(89.5,5),(91.5,5),(93,4),(95,3.5),(97,4),(99,3.5),(101,5),(103,5),(104.5,5),(106,5.5),(108,4),(109.5,4),(111,6),(85,2),(87.5,1),(89.5,1),(92,0.5),(94,2),(96,1.5),(99,1),(102.5,0),(104,1.5),(106,1.5),(108,-0.5),(85,-0.5),(88,-1.5),(91,-1),(93,-2),(95.5,-1.5),(98.5,-1),(101,-2),(103.5,-3),(105,-3.5),
(114.6,15),(113.2,17.1),(111.9,18.1),(112.6,14.5),(114.2,9),(114.4,8),(113.5,8),(115.5,4.3),(115.8,2),(110.1,-5),(109.3,-12),(108,-9),(105.5,-14),(108.9,-15),(107.7,-16),(110,-18),(102,-15.6),(101.5,-21.2),(100.8,-19.6),(100.8,-24.1),(98.2,-26),(97.7,-24.4),
(87.9,-24.1),(85.6,-25.1),(85.9,-29.3),(89.5,-30.1),(96.7,-23.2),(92.1,-28.3),(86.4,-17.2),(95,-16.8),(100.1,-15.4),(98.2,-15.2),(95.8,-14.8),(90.8,-12.8),(90.8,-11.2),(93.4,-12.8),(98,-11.7),(94.6,-9.9),(93,-6.7),(91.8,-9),(90.4,-8.1),(89.3,-5.7),(96.5,-6.1),
(102.8,-4.1),(106.3,-6.5),(106,-1.3),(108.6,-1.3),(108.2,0.6),(109.7,-0.5),(107,1.8),(110,5.8),(110.8,9.4),(111.9,9),(111.5,5.8),(112.3,4.2),(109.1,5.8),(106.9,7),(106.9,9),(106.9,11.4),(109.7,11.4),(110.6,13.1),(107.3,15.9),(110,16.1),(105.2,15.5),(104.1,12.2),
(105.6,18.1),(102.6,15.1),(103.2,17.3),(101.3,17.7),(99.8,13.5),(98.6,17.1),(90.3,17.1),(98.4,6.2),(91.7,1.8),(90.4,0.8),(88.4,2.2),(85,-1.7),(86.6,-3.5),(89.4,-3.3),(92.2,-1.7),(94.7,-0.1),(96.9,-1),(99.1,-1.7),(101.6,1.9),(101.3,-2.5),(103,-4.1),(104.3,-1.7),(105.3,3.4),
(99.5,5),(98.2,4.6),(93.6,5),(106.3,3.8),(107.3,-0.1),(100.4,-4.5),(103.6,22.4),(103.3,20.4),(109.2,21),(107.7,21),(105.5,20),(98,19.6),(96,21.2),(99.3,25.9),(98.9,24),(102.6,35),(108.6,35)]

mid_fill = [(70,22.2),(71,22),(72.5,22.3),(74,21.9),(77,22.1),(78.5,22),(69.8,20),(71.5,20.2),(72.8,19.9),(74,20.1),(75.5,20),(77.5,20.2),(79,19.9),(80.5,20.1),(82,19.9),(83.5,20.1),
(70.5,18.5),(72,18.7),(73.5,18.4),(75,18.6),(76.5,18.4),(78,18.6),(79.5,18.4),(81,18.6),(82.5,18.4),(84,18.6),(85.5,18.4),(72.5,16.5),(74.5,16.7),(76,16.4),(78,16.6),(79.5,16.4),(81,16.6),(82.5,16.4),(84,16.6),(86,16.4),(87.5,16.6),(89,16.4),(90.5,16.6),
(85.5,15.3),(87,15.5),(88.5,15.2),(90,15.4),(91.5,15.2),(93,15.4),(94.5,15.2),(96,15.4),(97.5,15.2),(99,15.4),(100.5,15.2),(102,15.4),(103.5,15.2),(105,15.4),(106.5,15.2),(108,15.4),
(85,13),(86.5,13.2),(88,12.9),(89.5,13.1),(91,12.9),(92.5,13.1),(94,12.9),(95.5,13.1),(97,12.9),(98.5,13.1),(100,12.9),(101.5,13.1),(103,12.9),(104.5,13.1),(106,12.9),(107.5,13.1),(109,12.9),(110.5,13.1),
(84.8,10.8),(86.2,11),(87.8,10.7),(89.2,10.9),(90.8,10.7),(92.2,10.9),(93.8,10.7),(95.2,10.9),(96.8,10.7),(98.2,10.9),(99.8,10.7),(101.2,10.9),(102.8,10.7),(104.2,10.9),(105.8,10.7),(107.2,10.9),(108.8,10.7),(111,10.9),
(84,8.2),(85.8,8.4),(87.2,8.1),(88.8,8.3),(90.2,8.1),(91.8,8.3),(93.2,8.1),(94.8,8.3),(96.2,8.1),(97.8,8.3),(99.2,8.1),(100.8,8.3),(102.2,8.1),(103.8,8.3),(105.2,8.1),(106.8,8.3),(108.2,8.1),(109.8,8.3),(111.2,8.1),
(85.5,6),(88,6.2),(90,5.9),(92,6.1),(94,5.9),(95.8,6.1),(97.5,5.9),(99,6.1),(100.5,5.9),(102,6.1),(103.5,5.9),(105,6.1),(107,5.9),(108.5,6.1),(110,5.9),
(84,3),(86,3.2),(88,2.9),(90,3.1),(92.5,2.9),(94,3.1),(96,2.9),(98.5,3.1),(100,2.9),(102,3.1),(104,2.9),(106.5,3.1),(108,2.9),(110,3.1),
(86,0),(89,0.2),(91,-0.1),(93,0.1),(95,-0.1),(97.5,0.1),(100,-0.1),(103,0.1),(105.5,-0.1),(108,0.1),
(86,-3),(88.5,-2.8),(90.5,-3.1),(92.8,-2.9),(95,-3.1),(97.5,-2.9),(100.5,-3.1),(102.5,-2.9),(104.5,-3.1),(87.5,-5.5),(92,-5.3),(96,-5.6),(99,-5.4),(102,-5.6),(107,-5.4),
(75,14.5),(77.5,15),(80,14),(82.5,12),(84,9),(78,7),(80.5,4),(83,6),(78.5,-1),(77.5,1),(83,-6),(85.5,-12),(92.5,-11.5),(95.5,-7),(98.5,-8),(91,-20),(88,-17),(86,-19),(96.5,-12.5),(100,-12),
(85.8,14),(87.2,13.9),(88.8,14),(90.2,13.9),(91.8,14),(93.2,13.9),(94.8,14),(96.2,13.9),(97.8,14),(99.2,13.9),(100.8,14),(102.2,13.9),(103.8,14),(105.2,13.9),(106.8,14),(108.2,13.9),
(85.3,9),(86.8,9.1),(88.2,9),(89.8,9.1),(91.2,9),(92.8,9.1),(94.2,9),(95.8,9.1),(97.2,9),(98.8,9.1),(100.2,9),(101.8,9.1),(103.2,9),(104.8,9.1),(106.8,9)]

mid2_points = [(54.9,35),(65.6,41.3),(75.2,35),(70.5,30),(67,20.9),(73.1,21.7),(70.9,-16.2),(73.1,-21),(75.8,-29.9),(81.2,25),(80.6,20.3),(78,2.8),(81.9,5.6),(84.7,-1.6),(85,25.9),(89.5,59.1),(101.1,40.8),(90.4,31.4),(92.2,28.9),(95.6,25.9),
(88.9,15.9),(86.1,16.1),(91.7,14.3),(87.1,10.2),(86.7,4),(94.7,6.6),(108.2,11),(105.4,9.4),(108.2,5.8),(108.4,2.4),(98,1),(97.2,-7.9),(102.6,-8.5),(91.8,-14.2),(98.6,-25.5)]

dark_top = [(71.1,23.6),(76.7,26.2),(80,23),(80.6,22.6),(78.2,27.8),(69.6,15.7),(73.2,16.3),(73.2,13.1),(72.7,11.1),(73.8,10),(74.7,10.3),(73.8,8),(75.6,10),(76.7,11.5),(78,11.5),(79.3,11.5),(76.9,13.9),(81,13.1),(75.4,7.2),(76.9,8.4),(78.4,8.4),(73.4,5.2),(74.5,5.2),(76,5.6),(77.3,6),
(80.1,6.4),(83.4,5.6),(84.1,6.8),(73,3.2),(73.8,2),(75.8,2.8),(76.5,1.2),(77.8,0.4),(80.1,1.2),(81.7,1.6),(74.7,0.4),(72.5,0.4),(73.8,-1.2),(74.9,-1.2),(76.2,-0.4),(79.1,-0.4),(83.4,-1.2),(82.1,-2.4),(84.5,-4.3),(83.4,-3.5),(82.3,-5.5),(74.7,-5.9),(75.8,-8.7),(83,-7.9),(83.8,-9.5),(83.2,-12.3),(84.3,-13.9),(84.1,-17.4),(82.5,-17),(81.2,-18.6),(83.8,-19.8),
(113.4,14),(113.2,11.6),(111.4,12),(112.8,6),(109,8.9),(109.1,15.3),(108.2,17.3),(106.5,14.5),(104,13.3),(104,8.6),(99.4,13),(97.3,15.9),(94.9,15.5),(92.6,17.3),(87.5,13.3),(90.7,10),(90.6,8),(87,7.8),(87.5,5.8),(88.6,6.6),(92.7,7),(95.5,9.4),(98.4,9),(100.6,7),(102.6,8),(96.7,5),(90.8,3.8),(85.2,2.2),(88,-0.5),(86.9,-0.5),(93.6,-0.5),(96,-0.1),(97.5,1),(100,0.6),(102.8,0.2),(103.4,2.2),(102.3,4.6),(101.7,4.2),(95.7,4.2),(110.1,3.8),(107,-1.7),(105.2,0.2),
(104.7,-5.3),(99.1,-5.3),(97.3,-4.5),(93.4,-4.5),(91.9,-4.9),(94.5,-6.1),(98.4,-6.1),(95.2,-6.5),(90.5,-6.1),(91.7,-4.5),(100.4,-6.9),(101.9,-6.9),(103.4,-6.1),(105.2,-6.5),(107.1,-2.9),(110,1.4),(111.6,2.8),(113.4,2.2),(86.7,-6.1),(93.6,-8.5),(97.1,-14),
(97,-11),(90,-13),(88,-13),(89,-9),(92,-10),(86,-9),(102,-10.5),(104,-10),(95,-11),(99,-10),(93,-11),(94.5,-13),(96,-15.5),(100.5,-17.5),(98.4,-18.8),(95.4,-20),(93.9,-21.6),(90.8,-17.2),(101.8,-18),(103.5,-19),(104.1,-16),(108.1,-17),(109.3,-16),(106.9,-10.5),(109.1,-10),(109.5,-11),(108.2,-5.7),(109,-7.1)]

light_top = [(107,43),(107.5,41.3),(104.9,41),(107.6,38),(107.2,37),(102,37),(105.3,36.9),(108.9,35.9),(112,35.6),(111,35.1),(110,34.9),(110.5,34.1),(106,35.1),(103.6,34.9),(104.5,33.9),(104.7,31.9),(106.5,31.9),(107.9,32.3),(102.7,32.1),
(109.8,30.6),(111.1,31.1),(112.6,31),(110.7,29.5),(116,26.9),(114.2,26.4),(113.1,24.9),(115.2,22),(111.1,26.8),(109.5,27.9),(110,25.1),(108.6,27.9),(107.8,29.5),(106,29.9),(104.3,29.9),(102.6,29.9),(100.8,29.5),(99.5,27.9),(100.8,25.9),(102.8,26.7),
(103.9,25.1),(106,26.7),(107.3,26.7),(108.6,25.1),(105.2,24.4),(106.5,24),(107.8,23.2),(112.1,22.8),(110.8,22),(109.7,22.4),(111.5,20.4),(106.9,20.8),(105.2,22),(105,28.3),(103.2,28),(106.8,28),(108.2,26),(109.2,23.8),(104.5,27),(105.6,26),(107,25),
(103.5,32),(105,32.2),(106,31.9),(108.5,32.1),(109.5,31.9),(101,30.5),(102,30.7),(103.5,30.4),(105,30.6),(106.5,30.4),(108,30.6),(100,28.8),(101.5,29),(103,28.7),(104.5,28.9),(106,28.7),(107.5,28.9),(109,28.7),(110.5,28.9),
(99,27.2),(100.5,27.4),(102,27.1),(103.5,27.3),(105,27.1),(106.5,27.3),(108,27.1),(109.5,27.3),(111,27.1),(100,25.6),(101.5,25.8),(103,25.5),(104.5,25.7),(106,25.5),(107.5,25.7),(109,25.5),(110.5,25.7),
(101,24),(103,24.2),(104.5,23.9),(106,24.1),(107.5,23.9),(109,24.1),(110.5,23.9),(112,24.1),(104,22.8),(106,23),(108,22.7),(110,22.9)]

dark_over_light = [(104,26.9)]
mid_over_light = [(108.6,35),(98,20),(103.5,21),(118.1,11)]

groups = [(2.0, light_under), (0.0, dark_sparse), (0.0, dark_top_zone), (0.0, dark_upper_fill), (0.0, dark_core), (0.0, dark_core_fill),
          (0.0, dark_left_lower), (0.0, dark_lower_core), (0.0, dark_lower_right),
          (0.88, mid_points), (0.88, mid_fill), (1.25, mid2_points), (0.0, dark_top), (2.0, light_top),
          (0.0, dark_over_light), (0.88, mid_over_light)]
df = pd.DataFrame([{"speed": s, "angle": a, "woba": w} for w, pts in groups for s, a in pts])


def _lab(hexcol):
    rgb = [int(hexcol[i:i + 2], 16) / 255 for i in (1, 3, 5)]
    r, g, b = [c / 12.92 if c <= 0.04045 else ((c + 0.055) / 1.055) ** 2.4 for c in rgb]
    x = (0.4124 * r + 0.3576 * g + 0.1805 * b) / 0.95047
    y = 0.2126 * r + 0.7152 * g + 0.0722 * b
    z = (0.0193 * r + 0.1192 * g + 0.9505 * b) / 1.08883
    f = [t ** (1 / 3) if t > 0.008856 else 7.787 * t + 16 / 116 for t in (x, y, z)]
    return 116 * f[1] - 16, 500 * (f[0] - f[1]), 200 * (f[1] - f[2])


def _hex(L, a, b):
    fy = (L + 16) / 116
    fx, fz = fy + a / 500, fy - b / 200
    x, y, z = [t ** 3 if t ** 3 > 0.008856 else (t - 16 / 116) / 7.787 for t in (fx, fy, fz)]
    x, z = x * 0.95047, z * 1.08883
    lin = (3.2406 * x - 1.5372 * y - 0.4986 * z, -0.9689 * x + 1.8758 * y + 0.0415 * z, 0.0557 * x - 0.2040 * y + 1.0570 * z)
    out = [12.92 * c if c <= 0.0031308 else 1.055 * c ** (1 / 2.4) - 0.055 for c in lin]
    return "#%02x%02x%02x" % tuple(int(round(max(0, min(1, c)) * 255)) for c in out)


lab0, lab1 = _lab(low_colour), _lab(high_colour)
stops = [alt.GradientStop(color=_hex(*[p + (q - p) * i / 10 for p, q in zip(lab0, lab1)]), offset=i / 10) for i in range(11)]

FONT = "Liberation Sans"
X_SCALE = alt.Scale(domain=[2.1, 123.9], nice=False, zero=False)
Y_SCALE = alt.Scale(domain=[-94.6, 97.3], nice=False, zero=False)
PW, PH = 2288, 1975
LEG_X, LEG_Y, LEG_W, LEG_H = 983, 2253, 556, 110

minor_v = alt.Chart(pd.DataFrame({"v": minor_x})).mark_rule(color="#ebebeb", strokeWidth=3).encode(
    x=alt.X("v:Q", scale=X_SCALE))
minor_h = alt.Chart(pd.DataFrame({"v": minor_y})).mark_rule(color="#ebebeb", strokeWidth=3).encode(
    y=alt.Y("v:Q", scale=Y_SCALE))

axis_style = dict(grid=True, gridColor="#ebebeb", gridWidth=5.5, domain=False, tickColor="#333333", tickWidth=5,
                  tickSize=18, labelColor="#4d4d4d", labelFontSize=56, labelFont=FONT, titleFont=FONT,
                  titleFontSize=70, titleFontWeight="normal", titleColor="black", labelPadding=14,
                  labelExpr="'' + datum.value")

points = alt.Chart(df).mark_circle(size=640, opacity=1).encode(
    x=alt.X("speed:Q", scale=X_SCALE, title="Launch Speed", axis=alt.Axis(values=major_x, titlePadding=14, **axis_style)),
    y=alt.Y("angle:Q", scale=Y_SCALE, title="Launch Angle", axis=alt.Axis(values=major_y, titlePadding=19, **axis_style)),
    color=alt.Color("woba:Q",
                    scale=alt.Scale(domain=[0, 2], range=[low_colour, high_colour], interpolate="lab"),
                    legend=None),
)

bar = alt.Chart(pd.DataFrame({"v": [0]})).mark_rect(
    color=alt.Gradient(gradient="linear", stops=stops, x1=0, x2=1, y1=0, y2=0)
).encode(x=alt.value(LEG_X), x2=alt.value(LEG_X + LEG_W), y=alt.value(LEG_Y), y2=alt.value(LEG_Y + LEG_H))

layers = [minor_v, minor_h, points, bar]
for v in legend_ticks:
    px = LEG_X + v / 2.0 * LEG_W
    layers.append(alt.Chart(pd.DataFrame({"v": [v]})).mark_rule(color="white", strokeWidth=2).encode(
        x=alt.value(px), y=alt.value(LEG_Y), y2=alt.value(LEG_Y + 22)))
    layers.append(alt.Chart(pd.DataFrame({"v": [v]})).mark_rule(color="white", strokeWidth=2).encode(
        x=alt.value(px), y=alt.value(LEG_Y + LEG_H - 22), y2=alt.value(LEG_Y + LEG_H)))
for v, t in zip(legend_values, legend_text):
    layers.append(alt.Chart(pd.DataFrame({"t": [t]})).mark_text(font=FONT, fontSize=56, color="black", align="center", baseline="middle").encode(
        text="t:N", x=alt.value(LEG_X + v / 2.0 * LEG_W), y=alt.value(LEG_Y + LEG_H + 60)))
layers.append(alt.Chart(pd.DataFrame({"t": ["wOBA"]})).mark_text(font=FONT, fontSize=70, color="black", align="left", baseline="alphabetic").encode(
    text="t:N", x=alt.value(749), y=alt.value(2378)))

chart = alt.layer(*layers).properties(
    width=PW, height=PH, autosize="none",
    padding={"left": 227, "top": 29, "right": 29, "bottom": 540},
    background="white",
).configure_view(stroke="#333333", strokeWidth=3.5)

chart.save("out.html", embed_options={"renderer": "svg", "actions": False})
